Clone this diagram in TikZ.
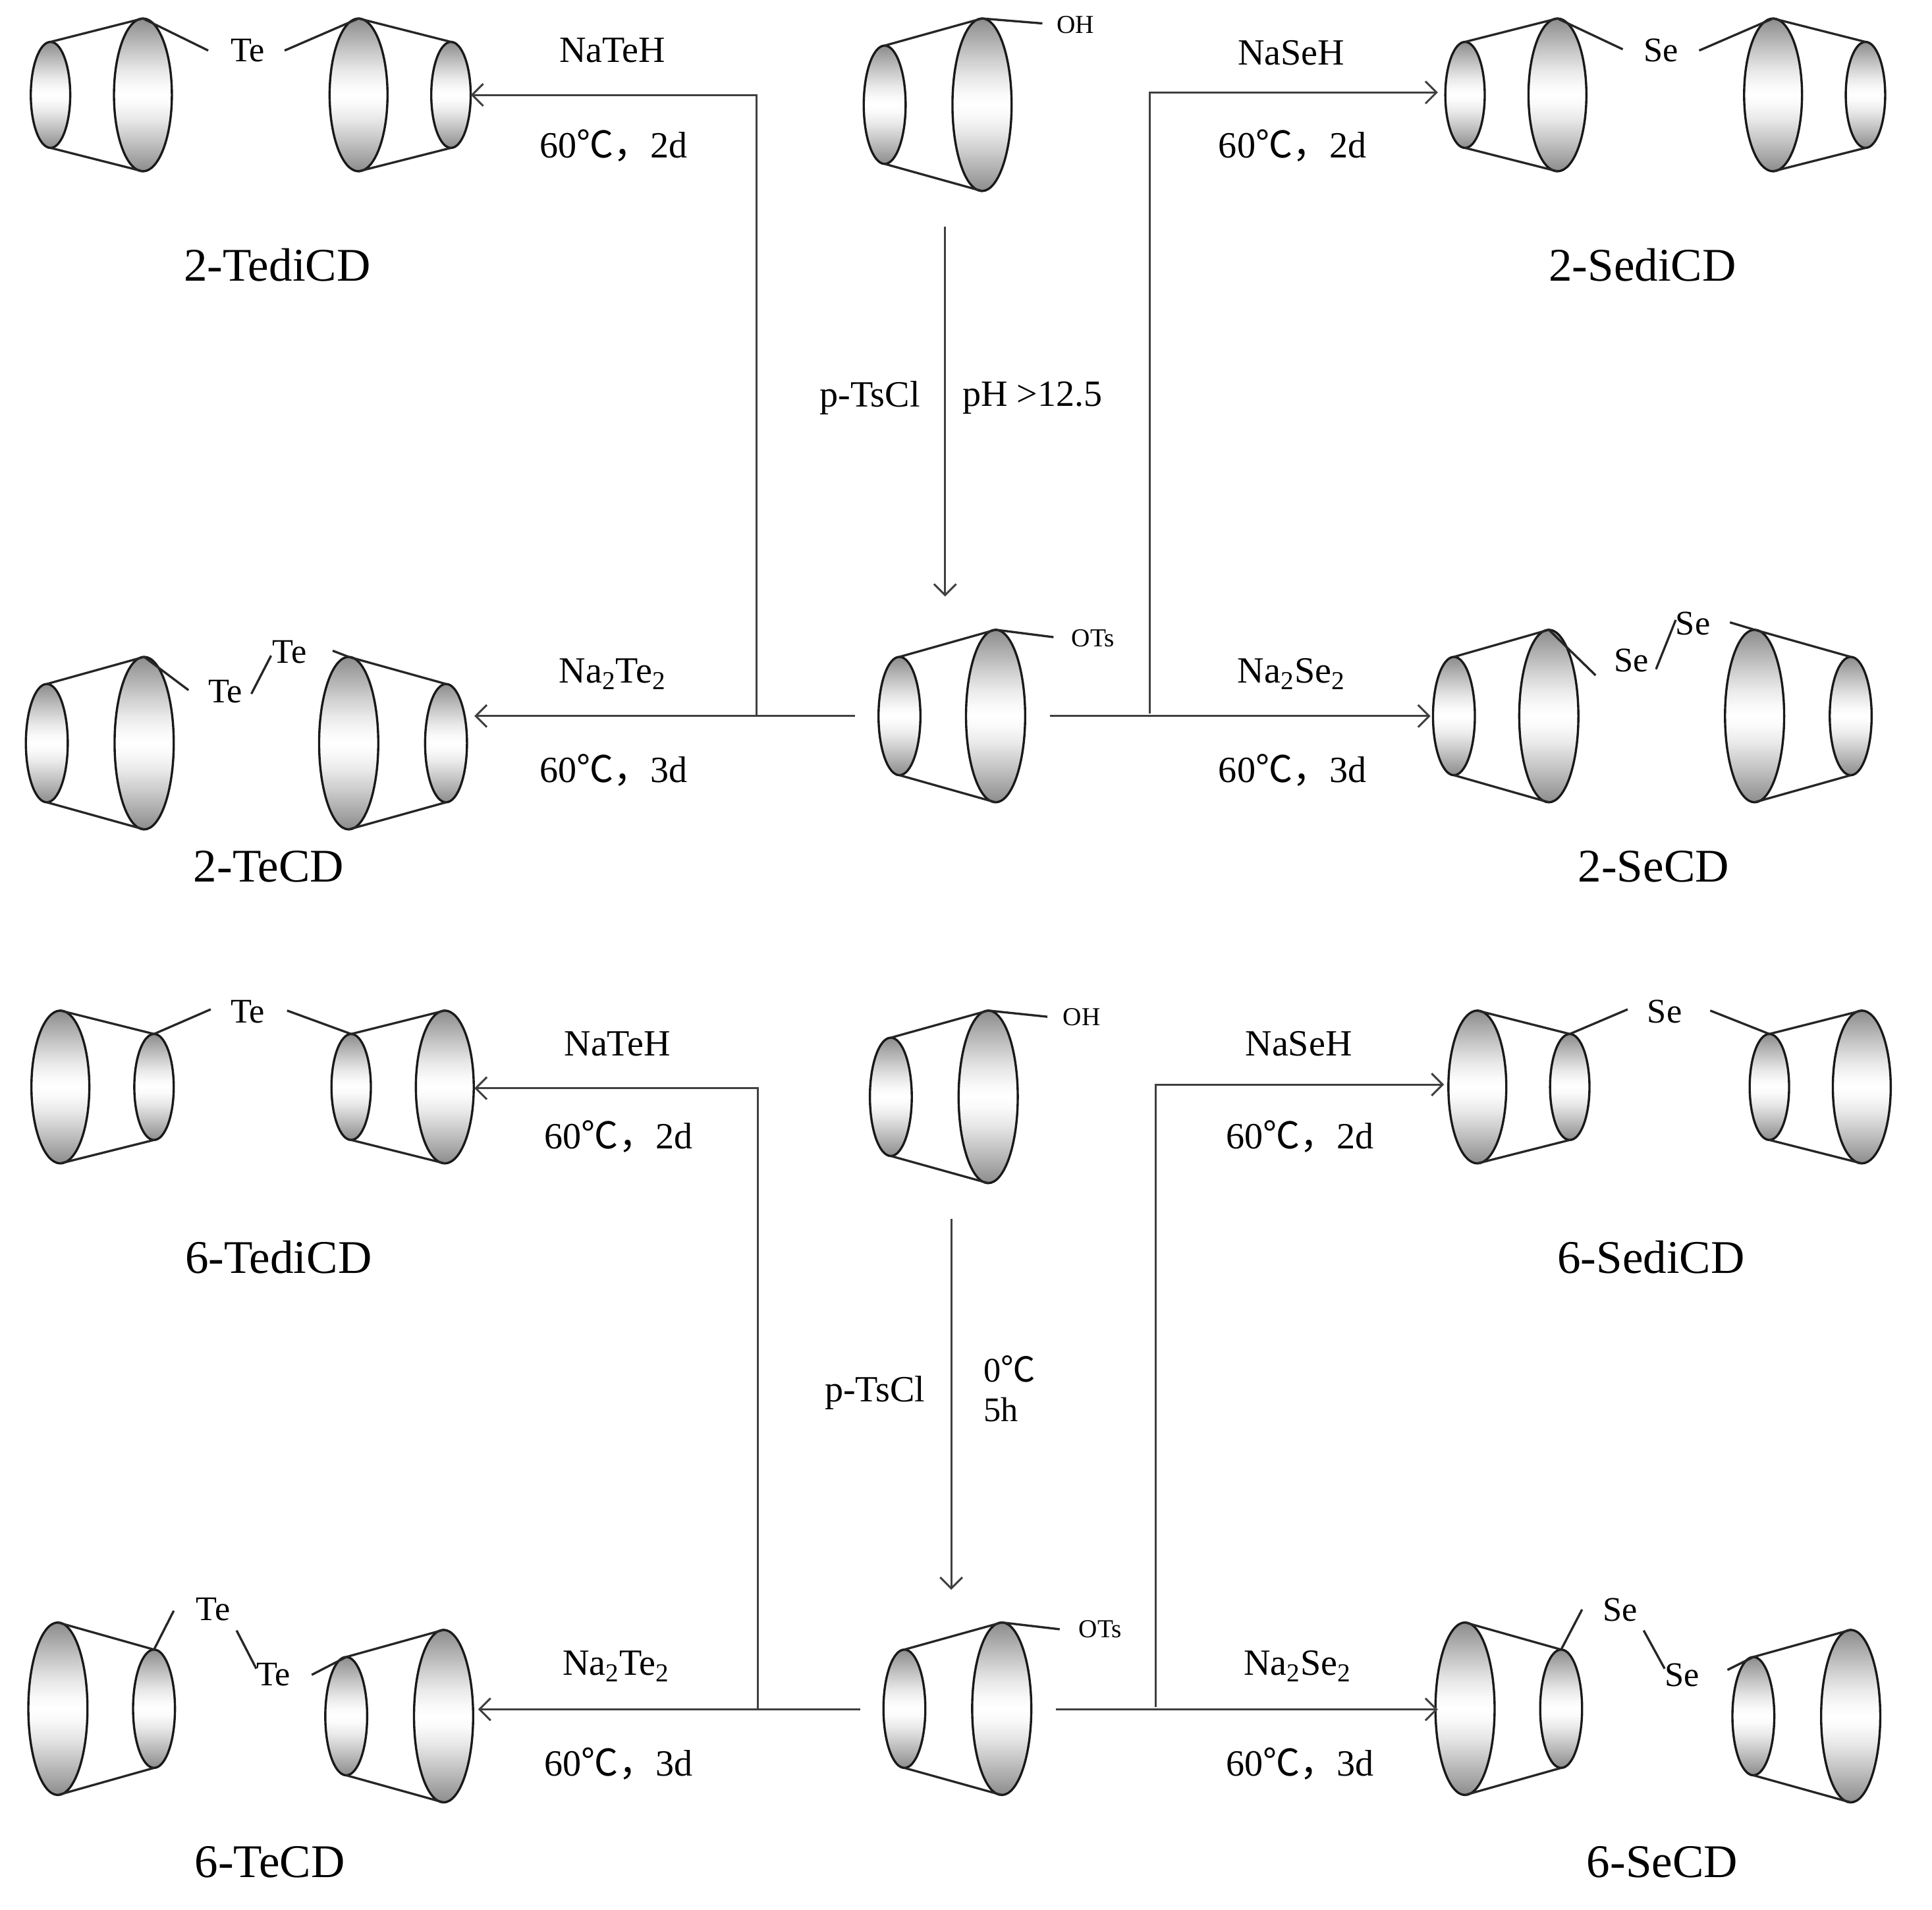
\documentclass[tikz,border=0pt]{standalone}
\usepackage{fontspec}
\setmainfont{Liberation Serif}
\newfontfamily\cjk{Noto Sans CJK SC}
\usetikzlibrary{shapes.geometric,arrows.meta}
\pgfdeclareverticalshading{rimshade}{100bp}{color(0bp)=(gray!90);color(25bp)=(gray!90);color(30bp)=(gray!68);color(36bp)=(gray!42);color(42bp)=(gray!18);color(47bp)=(gray!4);color(50bp)=(white);color(53bp)=(gray!4);color(58bp)=(gray!18);color(64bp)=(gray!42);color(70bp)=(gray!68);color(75bp)=(gray!90);color(100bp)=(gray!90)}
\tikzset{
	rim/.style={draw=black!90,ellipse,shading=rimshade,inner sep=0,outer sep=0,line width=1.8pt},
	rimsa/.style={minimum width=32pt,minimum height=86pt},
	rimba/.style={minimum width=47pt,minimum height=124pt},
	rimsb/.style={minimum width=34pt,minimum height=96pt},
	rimbb/.style={minimum width=48pt,minimum height=140pt},
	wall/.style={black!85,line width=1.8pt},
	rxn/.style={black!75,line width=1.6pt,-{Straight Barb[length=9pt,width=18pt]}},
	atom/.style={inner sep=0,font=\fontsize{28}{32}\selectfont},
	reagent/.style={inner sep=0,font=\fontsize{30}{34}\selectfont},
	group/.style={inner sep=0,font=\fontsize{21}{24}\selectfont},
	product/.style={inner sep=0,font=\fontsize{38}{42}\selectfont}
}
\newcommand{\conecd}[5]{
	\node[rim,rims#5] (#1s) at (#2,#4) {};
	\node[rim,rimb#5] (#1b) at (#3,#4) {};
	\draw[wall] (#1s.north) -- (#1b.north) (#1s.south) -- (#1b.south);
}
\newcommand{\cond}[1]{60{\cjk ℃，}#1}
\begin{document}
\begin{tikzpicture}[x=1pt,y=-1pt]
	\useasboundingbox (0,0) rectangle (1568,1549.3);
	\conecd{ta}{41}{116}{77}{a}
	\conecd{tb}{366}{291}{77}{a}
	\conecd{tc}{718}{797}{85}{b}
	\conecd{td}{1189}{1264}{77}{a}
	\conecd{te}{1514}{1439}{77}{a}
	\conecd{ua}{38}{117}{603}{b}
	\conecd{ub}{362}{283}{603}{b}
	\conecd{uc}{730}{808}{581}{b}
	\conecd{ud}{1180}{1257}{581}{b}
	\conecd{ue}{1502}{1424}{581}{b}
	\conecd{va}{125}{49}{882}{a}
	\conecd{vb}{285}{361}{882}{a}
	\conecd{vc}{723}{802}{890}{b}
	\conecd{vd}{1274}{1199}{882}{a}
	\conecd{ve}{1436}{1511}{882}{a}
	\conecd{wa}{125}{47}{1386.5}{b}
	\conecd{wb}{281}{360}{1392.5}{b}
	\conecd{wc}{734}{813}{1386.5}{b}
	\conecd{wd}{1267}{1189}{1386.5}{b}
	\conecd{we}{1423}{1502}{1392.5}{b}

	\node[atom] (tete) at (201,41) {Te};
	\node[group] (toh) at (873,20) {OH};
	\node[atom] (tese) at (1348,41) {Se};
	\node[atom] (uteb) at (183,561) {Te};
	\node[atom] (utec) at (235,529) {Te};
	\node[group] (uots) at (887,518) {OTs};
	\node[atom] (usec) at (1324,536) {Se};
	\node[atom] (used) at (1374,506) {Se};
	\node[atom] (vte) at (201,821) {Te};
	\node[group] (voh) at (878,825) {OH};
	\node[atom] (vse) at (1351,821) {Se};
	\node[atom] (wteb) at (173,1306) {Te};
	\node[atom] (wtec) at (222,1359) {Te};
	\node[group] (wots) at (893,1322) {OTs};
	\node[atom] (wsec) at (1315,1306) {Se};
	\node[atom] (wsed) at (1365,1359) {Se};

	\coordinate (b1) at (169,41);
	\coordinate (b2) at (231,41);
	\coordinate (b3) at (846,19);
	\coordinate (b4) at (1317,40);
	\coordinate (b5) at (1379,41);
	\coordinate (b6) at (153,560);
	\coordinate (b7) at (204,563);
	\coordinate (b8) at (220,532);
	\coordinate (b9) at (270,528);
	\coordinate (b10) at (855,517);
	\coordinate (b11) at (1295,548);
	\coordinate (b12) at (1344,543);
	\coordinate (b13) at (1360,503);
	\coordinate (b14) at (1404,505);
	\coordinate (b15) at (171,819);
	\coordinate (b16) at (233,820);
	\coordinate (b17) at (850,825);
	\coordinate (b18) at (1321,819);
	\coordinate (b19) at (1388,820);
	\coordinate (b20) at (141,1307);
	\coordinate (b21) at (192,1323);
	\coordinate (b22) at (208,1354);
	\coordinate (b23) at (253,1359);
	\coordinate (b24) at (860,1322);
	\coordinate (b25) at (1284,1306);
	\coordinate (b26) at (1334,1323);
	\coordinate (b27) at (1351,1354);
	\coordinate (b28) at (1402,1355);
	\draw[wall] (tab.north) -- (b1);
	\draw[wall] (tbb.north) -- (b2);
	\draw[wall] (tcb.north) -- (b3);
	\draw[wall] (tdb.north) -- (b4);
	\draw[wall] (teb.north) -- (b5);
	\draw[wall] (uab.north) -- (b6);
	\draw[wall] (b7) -- (b8);
	\draw[wall] (ubb.north) -- (b9);
	\draw[wall] (ucb.north) -- (b10);
	\draw[wall] (udb.north) -- (b11);
	\draw[wall] (b12) -- (b13);
	\draw[wall] (ueb.north) -- (b14);
	\draw[wall] (vas.north) -- (b15);
	\draw[wall] (vbs.north) -- (b16);
	\draw[wall] (vcb.north) -- (b17);
	\draw[wall] (vds.north) -- (b18);
	\draw[wall] (ves.north) -- (b19);
	\draw[wall] (was.north) -- (b20);
	\draw[wall] (b21) -- (b22);
	\draw[wall] (wbs.north) -- (b23);
	\draw[wall] (wcb.north) -- (b24);
	\draw[wall] (wds.north) -- (b25);
	\draw[wall] (b26) -- (b27);
	\draw[wall] (wes.north) -- (b28);

	\coordinate (a1) at (767,184);
	\coordinate (a2) at (767,484);
	\coordinate (a3) at (694,581);
	\coordinate (a4) at (385,581);
	\coordinate (a5) at (852,581);
	\coordinate (a6) at (1161,581);
	\coordinate (j1) at (614,581);
	\coordinate (j2) at (933,579);
	\coordinate (a7) at (1167,75);
	\coordinate (a8) at (772,989);
	\coordinate (a9) at (772,1290);
	\coordinate (a10) at (698,1387);
	\coordinate (a11) at (388,1387);
	\coordinate (a12) at (857,1387);
	\coordinate (a13) at (1167,1387);
	\coordinate (j3) at (615,1387);
	\coordinate (j4) at (938,1385);
	\coordinate (a14) at (385,883);
	\coordinate (a15) at (1172,880);
	\draw[rxn] (a1) -- (a2);
	\draw[rxn] (a3) -- (a4);
	\draw[rxn] (a5) -- (a6);
	\draw[rxn] (j1) |- (tbs.east);
	\draw[rxn] (j2) |- (a7);
	\draw[rxn] (a8) -- (a9);
	\draw[rxn] (a10) -- (a11);
	\draw[rxn] (a12) -- (a13);
	\draw[rxn] (j3) |- (a14);
	\draw[rxn] (j4) |- (a15);

	\node[reagent] (l1) at (497,41) {NaTeH};
	\node[reagent] (l2) at (498,118) {\cond{2d}};
	\node[product] (l3) at (225,215) {2-TediCD};
	\node[reagent] (l4) at (1048,43) {NaSeH};
	\node[reagent] (l5) at (1049,118) {\cond{2d}};
	\node[product] (l6) at (1333,215) {2-SediCD};
	\node[reagent] (l7) at (706,323) {p-TsCl};
	\node[reagent] (l8) at (838,323) {pH >12.5};
	\node[reagent] (l9) at (497,547) {Na\textsubscript{2}Te\textsubscript{2}};
	\node[reagent] (l10) at (498,625) {\cond{3d}};
	\node[product] (l11) at (218,703) {2-TeCD};
	\node[reagent] (l12) at (1048,547) {Na\textsubscript{2}Se\textsubscript{2}};
	\node[reagent] (l13) at (1049,625) {\cond{3d}};
	\node[product] (l14) at (1342,703) {2-SeCD};
	\node[reagent] (l15) at (501,847) {NaTeH};
	\node[reagent] (l16) at (502,922) {\cond{2d}};
	\node[product] (l17) at (226,1020) {6-TediCD};
	\node[reagent] (l18) at (1054,847) {NaSeH};
	\node[reagent] (l19) at (1055,922) {\cond{2d}};
	\node[product] (l20) at (1340,1020) {6-SediCD};
	\node[reagent] (l21) at (710,1130) {p-TsCl};
	\node[atom,anchor=west] (l22) at (798,1111) {0{\cjk ℃}};
	\node[atom,anchor=west] (l23) at (798,1144) {5h};
	\node[reagent] (l24) at (500,1352) {Na\textsubscript{2}Te\textsubscript{2}};
	\node[reagent] (l25) at (502,1431) {\cond{3d}};
	\node[product] (l26) at (219,1511) {6-TeCD};
	\node[reagent] (l27) at (1053,1352) {Na\textsubscript{2}Se\textsubscript{2}};
	\node[reagent] (l28) at (1055,1431) {\cond{3d}};
	\node[product] (l29) at (1349,1511) {6-SeCD};
\end{tikzpicture}
\end{document}
